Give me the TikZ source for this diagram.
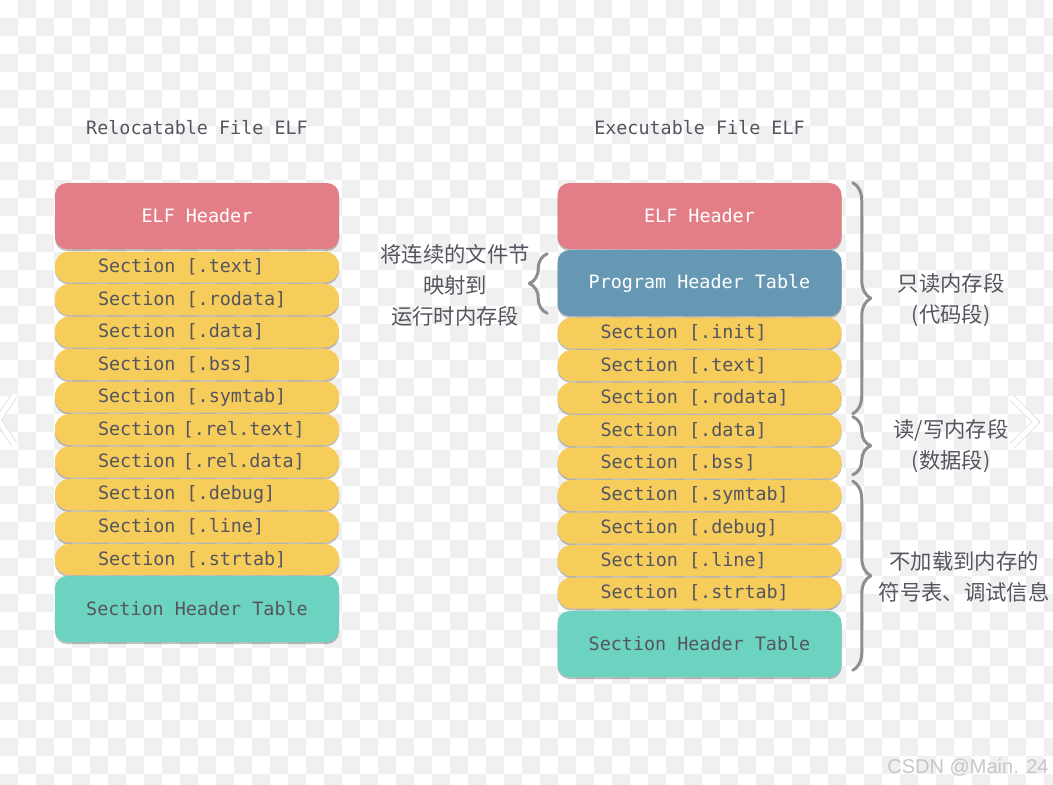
\documentclass[tikz,border=0pt]{standalone}
\usepackage{fontspec}
\usetikzlibrary{shadows,decorations.pathreplacing}

\newfontfamily\monofnt{DejaVu Sans Mono}
\newfontfamily\cjk{Noto Sans CJK SC}
\newfontfamily\wmfnt{Liberation Sans}

\newdimen\pxu \pxu=0.75pt

\definecolor{elfred}{HTML}{E47E86}
\definecolor{phtblue}{HTML}{6698B4}
\definecolor{secyellow}{HTML}{F6CC5B}
\definecolor{shtteal}{HTML}{6CD3C1}
\definecolor{txtgray}{HTML}{555560}
\definecolor{bracegray}{HTML}{8E8E8E}
\definecolor{chkgray}{HTML}{F0F0F0}

\tikzset{
  blk/.style={rounded corners=12\pxu, minimum width=284\pxu, inner sep=0pt,
    font=\monofnt\fontsize{13.8}{16}\selectfont,
    drop shadow={shadow xshift=0pt, shadow yshift=-1.5pt, opacity=.25, fill=black}},
  hdr/.style={blk, minimum height=66\pxu, text=white},
  sec/.style={blk, fill=secyellow, minimum height=31\pxu, rounded corners=14\pxu,
    inner xsep=43\pxu, text=txtgray,
    execute at begin node={\hbox to 198\pxu\bgroup},
    execute at end node={\hfil\egroup}},
  ttl/.style={font=\monofnt\fontsize{13.8}{16}\selectfont, text=txtgray},
  lbl/.style={font=\cjk\fontsize{16}{23.25}\selectfont, text=txtgray, align=center},
  brc/.style={decorate, decoration={brace, amplitude=18\pxu}, draw=bracegray,
    line width=3\pxu, line cap=round, line join=round},
  chev/.style={draw=white, line width=5\pxu, line cap=round, line join=round,
    preaction={draw=black!12, line width=7\pxu}}
}

\begin{document}
\begin{tikzpicture}[x=0.75pt, y=-0.75pt]

\useasboundingbox (0,0) rectangle (1053,785);
\fill[white] (0,0) rectangle (1053,785);

% checker background
\begin{scope}
\clip (0,0) rectangle (1053,785);
\foreach \i in {0,...,58}
  \foreach \j in {0,...,43}{
    \pgfmathtruncatemacro\chk{mod(\i+\j,2)}
    \ifnum\chk=1 \fill[chkgray] (\i*18,\j*18) rectangle ++(18,18); \fi
  }
\draw[chev] (14,396) -- (-2,420) -- (14,444);
\draw[chev] (1012,398) -- (1036,422) -- (1012,446);
\end{scope}

% relocatable file
\node[ttl] (ltitle) at (197,128) {Relocatable File ELF};
\node[hdr, fill=elfred] (lelf) at (197,216) {ELF Header};
\node[sec] (ltext) at (197,267) {Section [.text]};
\node[sec] (lrodata) at (197,299.5) {Section [.rodata]};
\node[sec] (ldata) at (197,332) {Section [.data]};
\node[sec] (lbss) at (197,364.5) {Section [.bss]};
\node[sec] (lsymtab) at (197,397) {Section [.symtab]};
\node[sec] (lreltext) at (197,429.5) {Section [.rel.text]};
\node[sec] (lreldata) at (197,462) {Section [.rel.data]};
\node[sec] (ldebug) at (197,494.5) {Section [.debug]};
\node[sec] (lline) at (197,527) {Section [.line]};
\node[sec] (lstrtab) at (197,559.5) {Section [.strtab]};
\node[hdr, fill=shtteal, text=txtgray] (lsht) at (197,609) {Section Header Table};

% executable file
\node[ttl] (rtitle) at (699.5,128) {Executable File ELF};
\node[hdr, fill=elfred] (relf) at (699.5,216) {ELF Header};
\node[hdr, fill=phtblue] (rpht) at (699.5,283) {Program Header Table};
\node[sec] (rinit) at (699.5,333) {Section [.init]};
\node[sec] (rtext) at (699.5,365.5) {Section [.text]};
\node[sec] (rrodata) at (699.5,398) {Section [.rodata]};
\node[sec] (rdata) at (699.5,430.5) {Section [.data]};
\node[sec] (rbss) at (699.5,463) {Section [.bss]};
\node[sec] (rsymtab) at (699.5,495.5) {Section [.symtab]};
\node[sec] (rdebug) at (699.5,528) {Section [.debug]};
\node[sec] (rline) at (699.5,560.5) {Section [.line]};
\node[sec] (rstrtab) at (699.5,593) {Section [.strtab]};
\node[hdr, fill=shtteal, text=txtgray] (rsht) at (699.5,644) {Section Header Table};

% braces and notes
\draw[brc] ([xshift=-10\pxu,yshift=3\pxu]rpht.south west) -- ([xshift=-10\pxu,yshift=-4\pxu]rpht.north west);
\node[lbl] (maplbl) at (455,285) {将连续的文件节\\映射到\\运行时内存段};

\draw[brc] ([xshift=11\pxu]relf.north east) -- ([xshift=11\pxu]rrodata.south east);
\draw[brc] ([xshift=11\pxu,yshift=-2\pxu]rdata.north east) -- ([xshift=11\pxu,yshift=4\pxu]rbss.south east);
\draw[brc] ([xshift=11\pxu,yshift=-1.5\pxu]rsymtab.north east) -- ([xshift=11\pxu,yshift=7\pxu]rsht.south east);

\node[lbl] (rolbl) at (951,300) {只读内存段\\(代码段)};
\node[lbl] (rwlbl) at (951,446) {读/写内存段\\(数据段)};
\node[lbl] (nolbl) at (964,577) {不加载到内存的\\符号表、调试信息};

\node[font=\wmfnt\fontsize{15}{18}\selectfont, text=black!22] (wmark) at (968,768) {CSDN @Main. 24};

\end{tikzpicture}
\end{document}
